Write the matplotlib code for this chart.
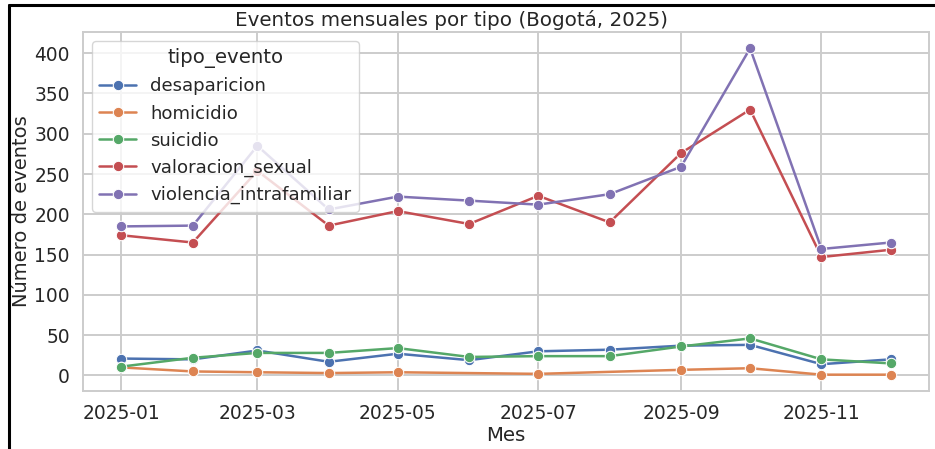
import numpy as np
import pandas as pd
import matplotlib
matplotlib.use("Agg")
import matplotlib.pyplot as plt
import matplotlib.dates as mdates
from matplotlib.lines import Line2D
import seaborn as sns

meses = ["2025-01", "2025-02", "2025-03", "2025-04", "2025-05", "2025-06",
         "2025-07", "2025-08", "2025-09", "2025-10", "2025-11", "2025-12"]

desaparicion = [21, 20, 31, 17, 27, 19, 30, 32, 37, 38, 14, 20]
homicidio = [10, 5, 4, 3, 4, np.nan, 2, np.nan, 7, 9, 1, 1]  # sin datos en jun y ago
suicidio = [11, 22, 28, 28, 34, 23, 24, 24, 36, 46, 20, 15]
valoracion_sexual = [174, 165, 254, 186, 204, 188, 223, 190, 276, 330, 147, 156]
violencia_intrafamiliar = [185, 186, 285, 206, 222, 217, 212, 225, 259, 406, 157, 165]

series = {
    "desaparicion": desaparicion,
    "homicidio": homicidio,
    "suicidio": suicidio,
    "valoracion_sexual": valoracion_sexual,
    "violencia_intrafamiliar": violencia_intrafamiliar,
}

filas = []
for tipo, vals in series.items():
    for m, v in zip(meses, vals):
        if not np.isnan(v):
            filas.append({"mes": pd.Timestamp(m + "-01"), "tipo_evento": tipo, "n": v})
df = pd.DataFrame(filas)

sns.set_theme(style="whitegrid", rc={"grid.linewidth": 1.4, "axes.linewidth": 1.4})
plt.rcParams["font.family"] = ["DejaVu Sans"]

fig = plt.figure(figsize=(9.35, 4.49), dpi=100)
ax = fig.add_axes([0.0888, 0.1292, 0.9048, 0.7995])

sns.lineplot(data=df, x="mes", y="n", hue="tipo_evento", marker="o",
             markersize=7.5, linewidth=1.8, ax=ax)

ax.xaxis.set_major_locator(mdates.MonthLocator(bymonth=[1, 3, 5, 7, 9, 11]))
ax.xaxis.set_major_formatter(mdates.DateFormatter("%Y-%m"))
ax.tick_params(labelsize=13.4)
ax.set_title("Eventos mensuales por tipo (Bogotá, 2025)", fontsize=14.3, pad=4, x=0.435)
ax.set_xlabel("Mes", fontsize=14.2, labelpad=2)
ax.set_ylabel("Número de eventos", fontsize=14, labelpad=2)

leg = ax.legend(title="tipo_evento", loc="upper left", fontsize=13.1, title_fontsize=14.2)

# borde parcial de la captura
fig.add_artist(Line2D([0.0096, 1.0], [0.9889, 0.9889], transform=fig.transFigure, color="black", lw=2.2))
fig.add_artist(Line2D([0.0096, 0.0096], [0.0, 0.9889], transform=fig.transFigure, color="black", lw=2.2))

fig.savefig("out.png", dpi=100)
